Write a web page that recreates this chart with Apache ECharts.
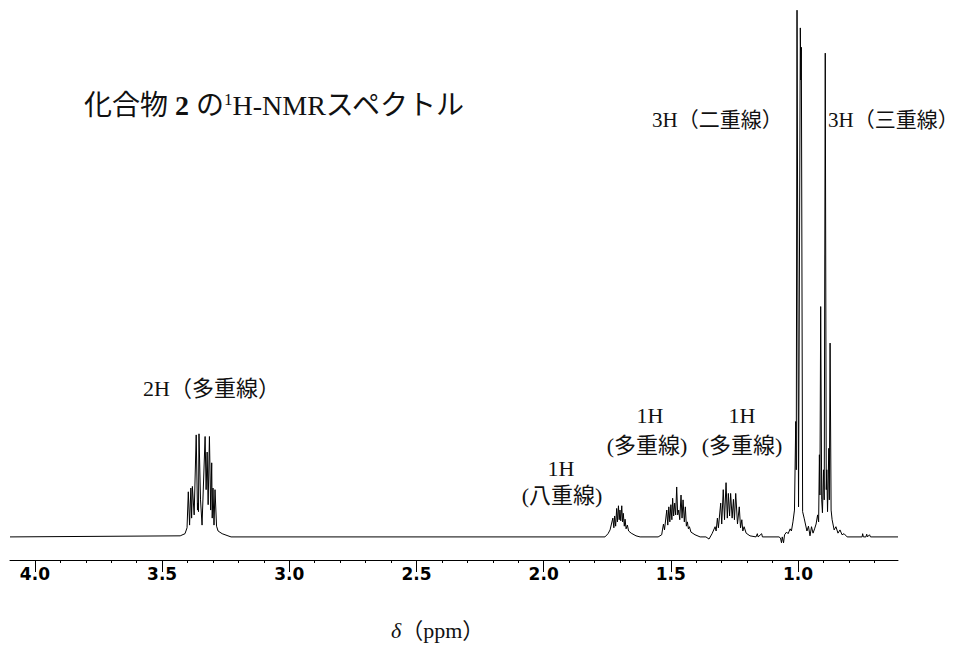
<!DOCTYPE html>
<html><head><meta charset="utf-8">
<script src="https://cdn.jsdelivr.net/npm/echarts@6/dist/echarts.min.js"></script>
<style>html,body{margin:0;padding:0;background:#fff}#c{width:961px;height:647px}</style>
</head><body><div id="c"></div>
<script>
// ppm axis extent (left end, right end)
const ppmMin = 0.607;
const ppmMax = 4.098;
const majorTicks = [1.0, 1.5, 2.0, 2.5, 3.0, 3.5, 4.0];
const minorTicks = [0.7,0.8,0.9,1.1,1.2,1.3,1.4,1.6,1.7,1.8,1.9,2.1,2.2,2.3,2.4,2.6,2.7,2.8,2.9,3.1,3.2,3.3,3.4,3.6,3.7,3.8,3.9];

// spectrum trace, [ppm, relative intensity]
const baseStart = [[4.098, 0]];
const m333 = [[3.429,0.2],[3.410,0.6],[3.402,1.7],[3.397,8.4],[3.392,2.2],[3.387,9.1],[3.384,3.5],[3.381,9.4],[3.374,4.1],[3.366,19.0],[3.361,5.0],[3.359,6.3],[3.357,4.7],[3.355,19.2],[3.349,6.9],[3.343,2.2],[3.331,18.7],[3.327,8.8],[3.323,15.8],[3.319,6.0],[3.314,18.7],[3.309,5.0],[3.305,13.8],[3.303,3.5],[3.300,9.1],[3.296,2.2],[3.292,8.8],[3.286,2.0],[3.280,1.1],[3.264,0.6],[3.241,0.2],[3.229,0]];
const m170 = [[1.759,0],[1.747,0.6],[1.739,1.3],[1.728,3.5],[1.724,1.7],[1.721,3.9],[1.717,2.0],[1.713,5.3],[1.710,2.8],[1.706,5.8],[1.703,3.2],[1.700,5.0],[1.697,3.0],[1.693,5.8],[1.690,2.8],[1.687,4.4],[1.683,2.0],[1.680,3.3],[1.676,1.5],[1.671,2.2],[1.666,1.1],[1.656,0.7],[1.637,0.2],[1.621,0]];
const m145 = [[1.550,0],[1.536,0.4],[1.533,1.3],[1.529,2.4],[1.525,1.3],[1.516,5.0],[1.512,2.2],[1.508,5.6],[1.504,2.8],[1.500,6.0],[1.496,3.2],[1.493,7.2],[1.489,3.9],[1.485,6.3],[1.481,4.1],[1.477,9.3],[1.473,4.1],[1.469,5.0],[1.465,3.2],[1.460,7.8],[1.456,3.5],[1.452,6.9],[1.447,2.8],[1.443,5.6],[1.439,2.0],[1.435,2.8],[1.431,1.5],[1.427,1.9],[1.421,0.9],[1.405,0.4],[1.385,0]];
const m128 = [[1.362,0],[1.350,-0.4],[1.338,0.6],[1.326,1.9],[1.322,1.1],[1.317,3.5],[1.313,1.7],[1.304,6.3],[1.300,2.4],[1.294,8.8],[1.289,3.2],[1.283,10.1],[1.278,3.5],[1.274,8.1],[1.269,3.9],[1.265,8.1],[1.259,3.5],[1.254,7.0],[1.250,3.2],[1.245,8.1],[1.238,2.4],[1.231,5.6],[1.226,1.7],[1.221,3.2],[1.217,1.1],[1.212,1.9],[1.204,0.7],[1.189,0.2],[1.165,0],[1.160,0.6],[1.157,0],[1.143,0.6],[1.140,0]];
const m100 = [[1.075,0],[1.069,-0.2],[1.065,-1.1],[1.062,0],[1.057,-1.1],[1.053,0.4],[1.045,0.9],[1.039,0.6],[1.031,1.5],[1.026,1.1],[1.020,2.8],[1.014,5.0],[1.009,21.5],[1.007,12.5],[1.004,98.1],[0.998,5.6],[0.991,94.8],[0.989,85.1],[0.987,91.2],[0.982,4.7],[0.976,3.5],[0.971,2.4],[0.965,1.1],[0.959,2.0],[0.953,0.2],[0.947,1.9],[0.941,0.7],[0.935,1.5],[0.929,2.4]];
const m090 = [[0.923,4.1],[0.919,2.8],[0.916,15.3],[0.914,7.8],[0.911,42.9],[0.907,6.9],[0.904,4.5],[0.900,12.5],[0.897,6.9],[0.893,90.1],[0.889,8.8],[0.887,12.5],[0.884,4.7],[0.879,16.5],[0.877,6.9],[0.874,36.1],[0.870,5.0],[0.866,3.2],[0.858,1.3],[0.851,1.9],[0.843,0.7],[0.835,1.3],[0.827,0.4],[0.819,0.6],[0.807,0],[0.748,0],[0.746,0.6],[0.743,0],[0.733,0],[0.730,0.5],[0.727,0],[0.719,0.4],[0.715,0]];
const baseEnd = [[0.607, 0]];

// texts
const titleText = '{a|化合物 }{b|2}{a| の}{s|1}{a|H-NMRスペクトル}';
const axisNameText = '{i|δ}{n|（ppm）}';
const peakLabels = ['3H（二重線）', '3H（三重線）', '2H（多重線）', '1H', '(多重線)', '1H', '(多重線)', '1H', '(八重線)'];

const spectrum = [].concat(baseStart, m333, m170, m145, m128, m100, m090, baseEnd);

const FONT = "'Liberation Serif','Noto Sans CJK JP',serif";
const chart = echarts.init(document.getElementById('c'), null, {renderer: 'svg'});
function lab(text, x, y, align, size) {
  return {type: 'text', x: x, y: y, silent: true,
    style: {text: text, fontSize: size || 22, fontFamily: FONT, fill: '#111', align: align || 'center', verticalAlign: 'middle'}};
}
chart.setOption({
  animation: false,
  backgroundColor: '#fff',
  grid: {left: 10, right: 63, top: 0, bottom: 87, containLabel: false},
  xAxis: [{
    type: 'value', min: ppmMin, max: ppmMax, inverse: true, position: 'bottom',
    axisLine: {onZero: false, lineStyle: {color: '#000', width: 1}},
    axisTick: {customValues: majorTicks, length: 12, lineStyle: {color: '#000', width: 1}},
    axisLabel: {customValues: majorTicks, margin: 5, color: '#000', fontSize: 17, fontWeight: 'bold',
      fontFamily: "'DejaVu Sans',sans-serif", formatter: v => Number(v).toFixed(1)},
    splitLine: {show: false}
  }, {
    type: 'value', min: ppmMin, max: ppmMax, inverse: true, position: 'bottom', gridIndex: 0,
    axisLine: {show: false, onZero: false},
    axisTick: {customValues: minorTicks, length: 3, lineStyle: {color: '#000', width: 1}},
    axisLabel: {show: false}, splitLine: {show: false}
  }],
  yAxis: {type: 'value', min: -4.3, max: 100, show: false},
  series: [{
    type: 'line', xAxisIndex: 0, data: spectrum, showSymbol: false, symbol: 'none',
    sampling: null, silent: true,
    lineStyle: {color: '#000', width: 1}
  }],
  graphic: [
    {type: 'text', x: 84, y: 105, silent: true, style: {text: titleText, align: 'left', verticalAlign: 'middle',
      rich: {
        a: {fontSize: 28, fontFamily: FONT, fill: '#111'},
        b: {fontSize: 28, fontFamily: FONT, fontWeight: 'bold', fill: '#111'},
        s: {fontSize: 17, fontFamily: FONT, fill: '#111', verticalAlign: 'top'}
      }}},
    lab(peakLabels[0], 652, 120, 'left', 21),
    lab(peakLabels[1], 828, 120, 'left', 21),
    lab(peakLabels[2], 143, 388, 'left'),
    lab(peakLabels[3], 650, 415),
    lab(peakLabels[4], 647, 445),
    lab(peakLabels[5], 742, 415),
    lab(peakLabels[6], 742, 445),
    lab(peakLabels[7], 561, 468),
    lab(peakLabels[8], 562, 495),
    {type: 'text', x: 391, y: 630, silent: true, style: {text: axisNameText, align: 'left', verticalAlign: 'middle',
      rich: {i: {fontSize: 22, fontFamily: FONT, fontStyle: 'italic', fill: '#111'}, n: {fontSize: 22, fontFamily: FONT, fill: '#111'}}}}
  ]
});
</script></body></html>
